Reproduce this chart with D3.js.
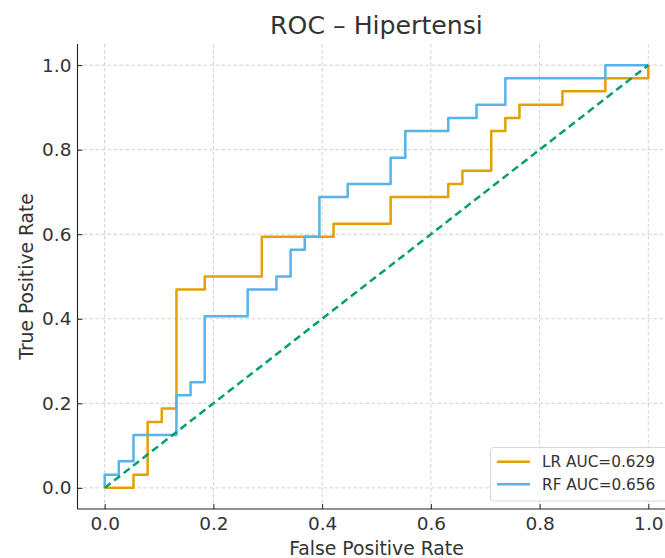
<!DOCTYPE html>
<html>
<head>
<meta charset="utf-8">
<script src="https://cdn.jsdelivr.net/npm/d3@7"></script>
<style>
  html, body { margin: 0; padding: 0; background: #fff; }
  svg { display: block; font-family: "DejaVu Sans", sans-serif; }
</style>
</head>
<body>
<svg id="chart" width="665" height="558"></svg>
<script>
// ---- Data ----
const title = "ROC – Hipertensi";
const xLabel = "False Positive Rate";
const yLabel = "True Positive Rate";
const tickValues = [0.0, 0.2, 0.4, 0.6, 0.8, 1.0];

const lrFpr = [0, 0.053, 0.053, 0.079, 0.079, 0.105, 0.105, 0.132, 0.132, 0.184, 0.184, 0.289, 0.289, 0.421, 0.421, 0.526, 0.526, 0.632, 0.632, 0.658, 0.658, 0.711, 0.711, 0.737, 0.737, 0.763, 0.763, 0.842, 0.842, 0.921, 0.921, 1, 1];
const lrTpr = [0, 0, 0.031, 0.031, 0.156, 0.156, 0.188, 0.188, 0.469, 0.469, 0.5, 0.5, 0.594, 0.594, 0.625, 0.625, 0.688, 0.688, 0.719, 0.719, 0.75, 0.75, 0.844, 0.844, 0.875, 0.875, 0.906, 0.906, 0.938, 0.938, 0.969, 0.969, 1];

const rfFpr = [0, 0, 0.026, 0.026, 0.053, 0.053, 0.132, 0.132, 0.158, 0.158, 0.184, 0.184, 0.263, 0.263, 0.316, 0.316, 0.342, 0.342, 0.368, 0.368, 0.395, 0.395, 0.447, 0.447, 0.526, 0.526, 0.553, 0.553, 0.632, 0.632, 0.684, 0.684, 0.737, 0.737, 0.921, 0.921, 1];
const rfTpr = [0, 0.031, 0.031, 0.063, 0.063, 0.125, 0.125, 0.219, 0.219, 0.25, 0.25, 0.406, 0.406, 0.469, 0.469, 0.5, 0.5, 0.563, 0.563, 0.594, 0.594, 0.688, 0.688, 0.719, 0.719, 0.781, 0.781, 0.844, 0.844, 0.875, 0.875, 0.906, 0.906, 0.969, 0.969, 1, 1];

const chanceX = [0, 1];
const chanceY = [0, 1];

const seriesNames = ["LR AUC=0.629", "RF AUC=0.656"];
const seriesColors = ["#E69F00", "#56B4E9"];
const chanceColor = "#009E73";

// ---- Layout ----
const svg = d3.select("#chart");
const W = 665, H = 558;
const margin = { left: 77.5, top: 44 };
const plotW = 598, plotH = 465;

const x = d3.scaleLinear().domain([-0.05, 1.05]).range([margin.left, margin.left + plotW]);
const y = d3.scaleLinear().domain([-0.05, 1.05]).range([margin.top + plotH, margin.top]);

svg.append("rect").attr("width", W).attr("height", H).attr("fill", "#fff");

// grid
const grid = svg.append("g");
tickValues.forEach(t => {
  grid.append("line")
    .attr("x1", x(t)).attr("x2", x(t))
    .attr("y1", margin.top).attr("y2", margin.top + plotH)
    .attr("stroke", "#cccccc").attr("stroke-width", 0.9).attr("stroke-dasharray", "3.5,2.5");
  grid.append("line")
    .attr("x1", margin.left).attr("x2", margin.left + plotW)
    .attr("y1", y(t)).attr("y2", y(t))
    .attr("stroke", "#cccccc").attr("stroke-width", 0.9).attr("stroke-dasharray", "3.5,2.5");
});

// lines
const line = d3.line().x(d => x(d[0])).y(d => y(d[1]));
const lrPts = lrFpr.map((v, i) => [v, lrTpr[i]]);
const rfPts = rfFpr.map((v, i) => [v, rfTpr[i]]);
const chancePts = chanceX.map((v, i) => [v, chanceY[i]]);

svg.append("path").datum(lrPts).attr("d", line)
  .attr("fill", "none").attr("stroke", seriesColors[0]).attr("stroke-width", 2.5)
  .attr("stroke-linejoin", "round");
svg.append("path").datum(rfPts).attr("d", line)
  .attr("fill", "none").attr("stroke", seriesColors[1]).attr("stroke-width", 2.5)
  .attr("stroke-linejoin", "round");
svg.append("path").datum(chancePts).attr("d", line)
  .attr("fill", "none").attr("stroke", chanceColor).attr("stroke-width", 2.5)
  .attr("stroke-dasharray", "7.5,4.5");

// axes (ticks pointing inward)
const xAxis = d3.axisBottom(x).tickValues(tickValues).tickFormat(d3.format(".1f")).tickSize(-5).tickPadding(0);
const yAxis = d3.axisLeft(y).tickValues(tickValues).tickFormat(d3.format(".1f")).tickSize(-5).tickPadding(6);

const gx = svg.append("g").attr("transform", `translate(0,${margin.top + plotH})`).call(xAxis);
gx.select(".domain").attr("d", `M${margin.left},0H${W + 20}`).attr("stroke", "#222").attr("stroke-width", 1.1);
gx.selectAll(".tick line").attr("stroke", "#222").attr("stroke-width", 1);
gx.selectAll(".tick text").attr("font-size", 18.5).attr("fill", "#333").attr("font-family", "DejaVu Sans")
  .attr("y", 21).attr("dy", 0);

const gy = svg.append("g").attr("transform", `translate(${margin.left},0)`).call(yAxis);
gy.select(".domain").attr("d", `M0,${margin.top}V${margin.top + plotH}`).attr("stroke", "#222").attr("stroke-width", 1.1);
gy.selectAll(".tick line").attr("stroke", "#222").attr("stroke-width", 1);
gy.selectAll(".tick text").attr("font-size", 18.5).attr("fill", "#333").attr("font-family", "DejaVu Sans");

// title & labels
svg.append("text").attr("x", x(0.5)).attr("y", 33.5).attr("text-anchor", "middle")
  .attr("font-size", 25.2).attr("fill", "#333").text(title);
svg.append("text").attr("x", x(0.5)).attr("y", 555).attr("text-anchor", "middle")
  .attr("font-size", 18.8).attr("fill", "#333").text(xLabel);
svg.append("text").attr("transform", `translate(33,${y(0.5)}) rotate(-90)`).attr("text-anchor", "middle")
  .attr("font-size", 18.7).attr("fill", "#333").text(yLabel);

// legend
const lg = svg.append("g");
lg.append("rect").attr("x", 490.5).attr("y", 447.5).attr("width", 190).attr("height", 53.5)
  .attr("rx", 3).attr("fill", "#fff").attr("fill-opacity", 0.85)
  .attr("stroke", "#d8d8d8").attr("stroke-width", 1);
seriesNames.forEach((name, i) => {
  const yy = 461.7 + i * 22.5;
  lg.append("line").attr("x1", 497).attr("x2", 530).attr("y1", yy).attr("y2", yy)
    .attr("stroke", seriesColors[i]).attr("stroke-width", 2.5);
  lg.append("text").attr("x", 542).attr("y", yy + 5.5).attr("font-size", 15.3)
    .attr("fill", "#333").text(name);
});
</script>
</body>
</html>
